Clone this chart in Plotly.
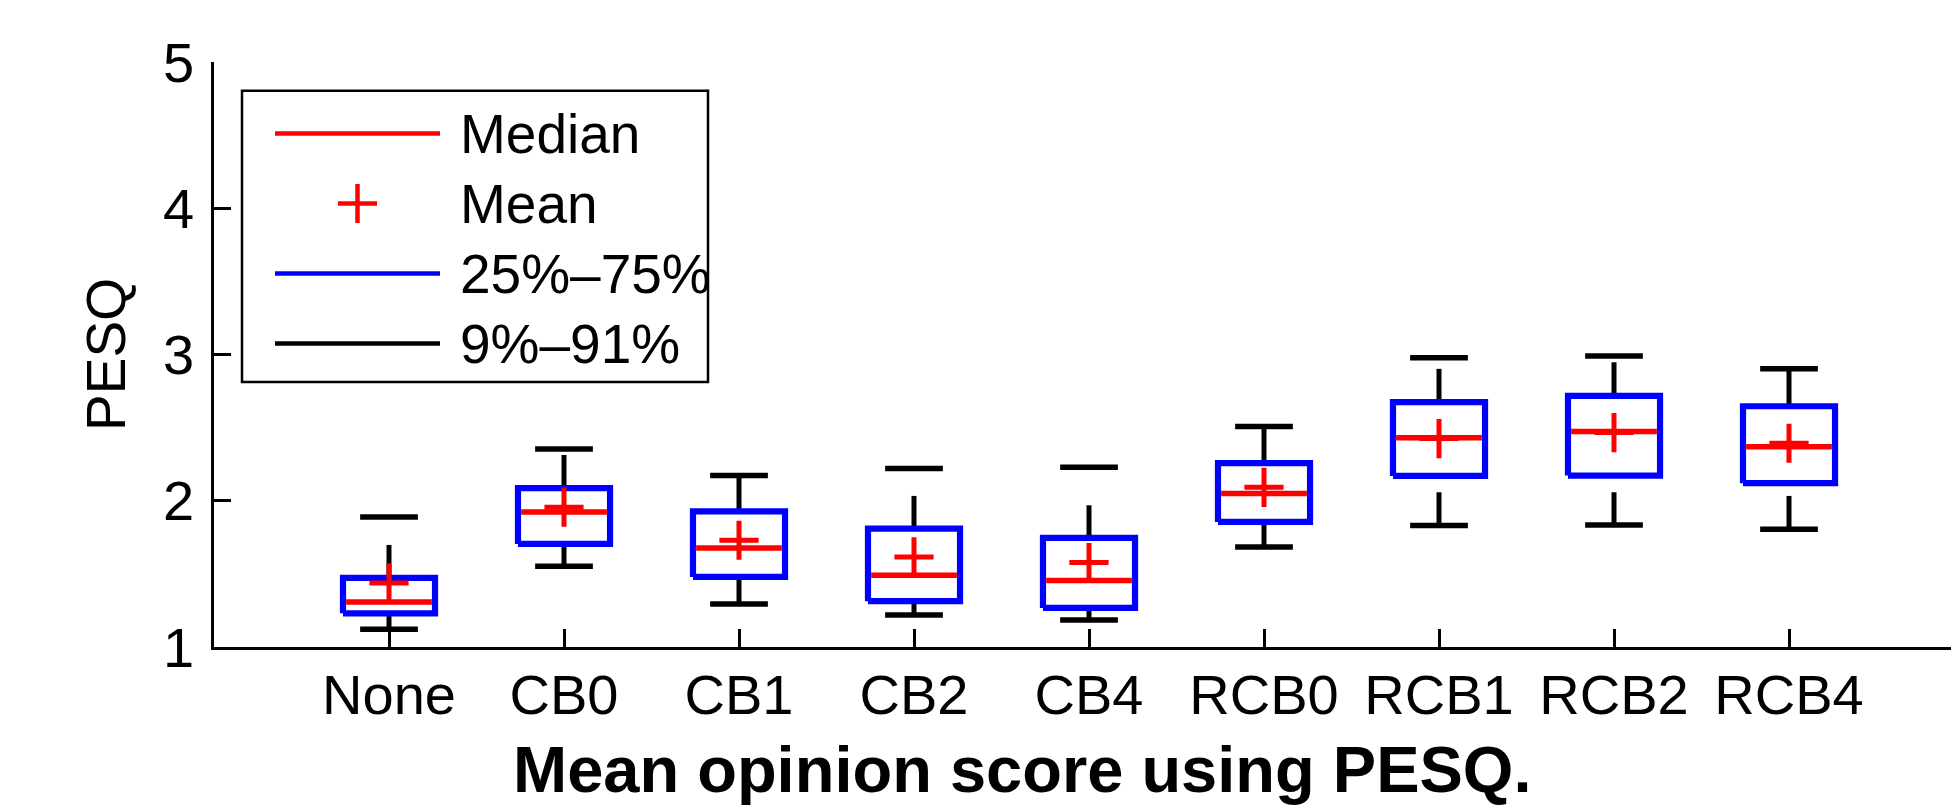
import numpy as np
import plotly.graph_objects as go

# ---------------- data ----------------
categories = ["None", "CB0", "CB1", "CB2", "CB4", "RCB0", "RCB1", "RCB2", "RCB4"]
p9 = [1.121, 1.552, 1.294, 1.219, 1.185, 1.684, 1.830, 1.834, 1.805]
p91 = [1.889, 2.354, 2.172, 2.220, 2.229, 2.507, 2.977, 2.990, 2.902]
q25 = [1.230, 1.705, 1.479, 1.313, 1.267, 1.855, 2.170, 2.172, 2.120]
q75 = [1.472, 2.086, 1.928, 1.809, 1.746, 2.257, 2.674, 2.717, 2.646]
medians = [1.308, 1.923, 1.677, 1.490, 1.454, 2.049, 2.430, 2.473, 2.370]
means = [1.438, 1.956, 1.730, 1.616, 1.577, 2.092, 2.425, 2.466, 2.393]
# ends of the whisker lines (nearest to the box for the lower one, farthest for the upper one)
lower_whisker_top = [1.230, 1.705, 1.479, 1.313, 1.267, 1.855, 2.058, 2.058, 2.033]
upper_whisker_top = [1.698, 2.313, 2.172, 2.033, 1.969, 2.507, 2.902, 2.947, 2.902]
y_ticks = [1, 2, 3, 4, 5]
legend_labels = ["Median", "Mean", "25%\u201375%", "9%\u201391%"]

# ---------------- styling ----------------
RED = "#FF0000"
BLUE = "#0000FF"
BLACK = "#000000"
FONT = "Liberation Sans, Arial, Helvetica, sans-serif"
BOX_HALF = 0.263
MED_HALF = 0.245
CAP_HALF = 0.165

pos = np.arange(1, len(categories) + 1)


def seg_x(centers, half):
    xs = []
    for c in centers:
        xs += [c - half, c + half, None]
    return xs


def seg_y(vals):
    ys = []
    for v in vals:
        ys += [v, v, None]
    return ys


fig = go.Figure()

# whiskers
wx, wy = [], []
for c, a, b in zip(pos, p9, lower_whisker_top):
    wx += [c, c, None]
    wy += [a, b, None]
for c, a, b in zip(pos, q75, upper_whisker_top):
    wx += [c, c, None]
    wy += [a, b, None]
fig.add_trace(go.Scatter(x=wx, y=wy, mode="lines", line=dict(color=BLACK, width=5),
                         showlegend=False, hoverinfo="skip", name="whiskers"))

# 9% / 91% caps
fig.add_trace(go.Scatter(x=seg_x(pos, CAP_HALF) * 2, y=seg_y(p9) + seg_y(p91), mode="lines",
                         line=dict(color=BLACK, width=5.5), showlegend=False, name="9%\u201391%"))

# boxes 25%-75%
bx, by = [], []
for c, lo, hi in zip(pos, q25, q75):
    bx += [c - BOX_HALF, c + BOX_HALF, c + BOX_HALF, c - BOX_HALF, c - BOX_HALF, None]
    by += [lo, lo, hi, hi, lo, None]
fig.add_trace(go.Scatter(x=bx, y=by, mode="lines", line=dict(color=BLUE, width=6.2),
                         showlegend=False, name="25%\u201375%"))

# medians
fig.add_trace(go.Scatter(x=seg_x(pos, MED_HALF), y=seg_y(medians), mode="lines",
                         line=dict(color=RED, width=5.5), showlegend=False, name="Median"))

# means
fig.add_trace(go.Scatter(x=pos, y=means, mode="markers",
                         marker=dict(symbol="cross-thin", size=28, color=RED,
                                     line=dict(color=RED, width=5)),
                         showlegend=False, name="Mean"))

# ---------------- layout ----------------
# the page body adds an 8px margin; the figure is sized so it fills the window exactly
OFF = 8
W, H = 1951, 798
ML, MR, MT, MB = 206, 0, 54, 159
PW, PH = W - ML - MR, H - MT - MB


def px_x(p):  # screen pixel -> paper x
    return (p - OFF - ML) / PW


def px_y(p):  # screen pixel -> paper y
    return (H - MB - (p - OFF)) / PH


fig.update_layout(
    width=W, height=H,
    margin=dict(l=ML, r=MR, t=MT, b=MB, autoexpand=False),
    paper_bgcolor="white", plot_bgcolor="white",
    font=dict(family=FONT, size=56, color=BLACK),
    xaxis=dict(range=[0, PW / 175.0], tickmode="array", tickvals=list(pos), ticktext=categories,
               ticks="inside", ticklen=18, tickwidth=2.5, tickcolor=BLACK,
               showline=True, linewidth=3, linecolor=BLACK, showgrid=False, zeroline=False,
               tickfont=dict(family=FONT, size=56, color=BLACK), ticklabelstandoff=-3),
    yaxis=dict(range=[1, 5], tickmode="array", tickvals=y_ticks, ticktext=[str(v) for v in y_ticks],
               ticks="inside", ticklen=17, tickwidth=2.5, tickcolor=BLACK,
               showline=True, linewidth=2.5, linecolor=BLACK, showgrid=False, zeroline=False,
               tickfont=dict(family=FONT, size=56, color=BLACK), ticklabelstandoff=6,
               title=dict(text="PESQ", font=dict(family=FONT, size=55, color=BLACK), standoff=20)),
)

# x axis title (bold, placed as in the reference)
fig.add_annotation(text="<b>Mean opinion score using PESQ.</b>", xref="paper", yref="paper",
                   x=px_x(1022), y=px_y(769), xanchor="center", yanchor="middle", showarrow=False,
                   font=dict(family=FONT, size=65, color=BLACK))

# ---------------- legend (drawn box) ----------------
shapes = []
shapes.append(dict(type="rect", xref="paper", yref="paper", x0=px_x(242), x1=px_x(708),
                   y0=px_y(382), y1=px_y(90.7), line=dict(color=BLACK, width=2.5),
                   fillcolor="white", layer="above"))
rows = [133.5, 203.5, 273.5, 343.5]
sample_colors = [RED, None, BLUE, BLACK]
for ry, col in zip(rows, sample_colors):
    if col is not None:
        shapes.append(dict(type="line", xref="paper", yref="paper", x0=px_x(275), x1=px_x(440),
                           y0=px_y(ry), y1=px_y(ry), line=dict(color=col, width=4.5), layer="above"))
# mean "+" sample
shapes.append(dict(type="line", xref="paper", yref="paper", x0=px_x(338), x1=px_x(377),
                   y0=px_y(rows[1]), y1=px_y(rows[1]), line=dict(color=RED, width=4.5), layer="above"))
shapes.append(dict(type="line", xref="paper", yref="paper", x0=px_x(357.5), x1=px_x(357.5),
                   y0=px_y(rows[1] - 19.5), y1=px_y(rows[1] + 19.5), line=dict(color=RED, width=4.5),
                   layer="above"))
fig.update_layout(shapes=shapes)
for ry, lab in zip(rows, legend_labels):
    fig.add_annotation(text=lab, xref="paper", yref="paper", x=px_x(458), y=px_y(ry),
                       xanchor="left", yanchor="middle", showarrow=False,
                       font=dict(family=FONT, size=55, color=BLACK))

fig.write_html("out.html")
